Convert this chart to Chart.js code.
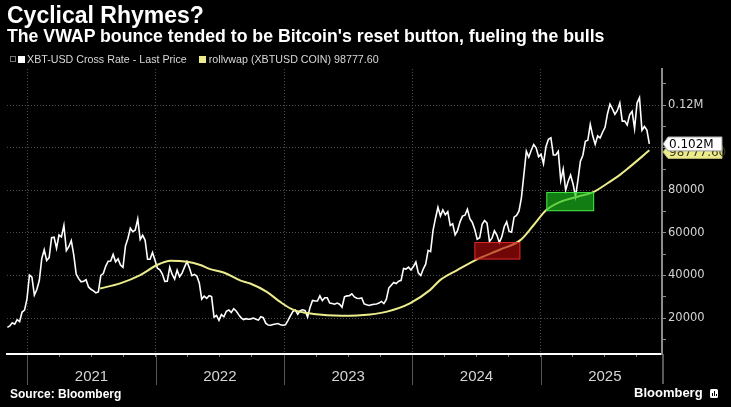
<!DOCTYPE html>
<html>
<head>
<meta charset="utf-8">
<title>Cyclical Rhymes?</title>
<script src="https://cdn.jsdelivr.net/npm/chart.js@4.4.1/dist/chart.umd.min.js"></script>
<style>
  html, body { margin:0; padding:0; background:#000; }
  #wrap { position:relative; width:731px; height:407px; overflow:hidden; background:#000; }
  #chart { position:absolute; left:0; top:0; }
  .txt { position:absolute; white-space:nowrap; color:#fff; font-family:'Liberation Sans', Arial, sans-serif; z-index:2; }
  #title { left:7px; top:4px; font-size:23px; line-height:23px; font-weight:bold; }
  #subtitle { left:7px; top:27px; font-size:17.7px; line-height:18px; font-weight:bold; }
  #legend { left:10px; top:53px; font-size:10.7px; line-height:12px; color:#d8d8d8; display:flex; align-items:center; }
  #legend .ico { width:4px; height:4px; border:1px solid #777; margin-right:2px; }
  #legend .sw { width:7px; height:7px; margin-right:2px; }
  #legend .sw2 { margin-left:12px; margin-right:3px; }
  #source { left:10px; top:388px; font-size:12px; line-height:12px; font-weight:bold; }
  #brand { left:634px; top:386px; font-size:13px; line-height:14px; font-weight:bold; display:flex; align-items:center; }
  #brand .logo { display:inline-block; position:relative; width:8px; height:9px; background:#fff; border-radius:1.5px; margin-left:7px; }
  #brand .logo i { position:absolute; bottom:2px; width:1px; background:#000; }
</style>
</head>
<body>
<div id="wrap">
  <canvas id="chart" width="731" height="407"></canvas>
  <div class="txt" id="title"></div>
  <div class="txt" id="subtitle"></div>
  <div class="txt" id="legend"></div>
  <div class="txt" id="source"></div>
  <div class="txt" id="brand"><span id="brandName"></span><span class="logo"><i style="left:2px;height:3px"></i><i style="left:4px;height:5px"></i><i style="left:6px;height:2px"></i></span></div>
</div>
<script>
// ---------------- text ----------------
const titleText = 'Cyclical Rhymes?';
const subtitleText = "The VWAP bounce tended to be Bitcoin's reset button, fueling the bulls";
const sourceText = 'Source: Bloomberg';
const brandText = 'Bloomberg';
const priceName = 'XBT-USD Cross Rate - Last Price';
const vwapName = 'rollvwap (XBTUSD COIN)';

// ---------------- data ----------------
// XBT-USD last price, weekly samples (Thursdays) starting 2020-11-05
const priceStart = '2020-11-05';
const priceStepDays = 7;
const price2020 = [15600, 16300, 17800, 17100, 19200, 18300, 22800, 23700, 29000];
const price2021 = [40200, 39200, 30800, 33400,
  37600, 47900, 52100, 47000,
  48400, 57800, 58000, 52800,
  59000, 58100, 63500, 51700, 53500,
  56400, 49700, 40600, 38500,
  37000, 37300, 38000, 34600,
  33500, 32800, 31800, 32300, 40000,
  40900, 44400, 46700, 46800,
  49900, 46400, 47800, 44900, 43800,
  53800, 57400, 62200, 60600,
  61400, 66500, 56900, 58900,
  56500, 47600, 47600, 50800, 47100];
const price2022 = [43400, 42600, 40700, 37200,
  37300, 43900, 40500, 38300,
  42500, 39400, 41100, 43900, 46500,
  43500, 39900, 40500, 39700,
  36500, 28900, 30300, 29200,
  30500, 30100, 20400, 21200, 18900,
  21600, 20600, 23200, 23800,
  22600, 24400, 23300, 21600,
  20100, 19300, 19700, 19400, 19600,
  20000, 19400, 19000, 20600,
  20200, 17600, 16700, 16600,
  17000, 17200, 17400, 16800, 16600];
const price2023 = [16800, 18800, 21000, 23000,
  23700, 21800, 23500, 23900,
  23500, 20400, 25000, 28300, 28000,
  28000, 30400, 28200, 29500,
  29500, 27000, 26800, 26500,
  27000, 26500, 25100, 30000, 30400,
  30500, 31400, 29900, 29300,
  29200, 29400, 26600, 26200, 25900,
  26200, 26500, 26600, 27000,
  27800, 26800, 28700, 34100,
  35400, 36700, 36200, 37300, 37700,
  43300, 43000, 43900, 42600];
const price2024 = [44200, 46300, 41200, 40000,
  43000, 45300, 51800, 51200, 61200,
  66900, 72000, 67900, 70800,
  68500, 70000, 63500, 64300,
  59100, 61200, 65200, 67900, 68300,
  71100, 66700, 64900, 61600,
  57000, 57700, 64000, 65800,
  64600, 56000, 57500, 61000, 59000,
  55500, 58100, 62900, 65200,
  60700, 60300, 67400, 68200, 70200,
  76500, 87300, 98400, 95600,
  98800, 101500, 100000, 95800];
const price2025 = [96900, 92500, 100500, 104000, 104700,
  96600, 96600, 98300, 84700,
  90000, 80000, 84200, 87200,
  83000, 77000, 84900, 93700,
  96500, 103000, 103500, 111000, 105600,
  101600, 105600, 104600, 107300,
  109600, 116000, 120500, 118300, 115700,
  117500, 121000, 112500, 112500,
  110700, 115500, 117100, 109000,
  121000, 123500, 108200, 110000, 108300,
  101800];
const priceValues = [].concat(price2020, price2021, price2022, price2023, price2024, price2025);

// rolling VWAP
const vwapDates = ['2021-07-27', '2021-09-22', '2021-11-18', '2022-01-05', '2022-02-12', '2022-04-01',
  '2022-05-08', '2022-06-05', '2022-07-15', '2022-08-29', '2022-09-27', '2022-11-13', '2022-12-20',
  '2023-01-28', '2023-03-26', '2023-06-15', '2023-09-03', '2023-10-21', '2023-12-25', '2024-02-20',
  '2024-03-20', '2024-05-08', '2024-07-03', '2024-09-08', '2024-11-04', '2024-12-12', '2025-01-17',
  '2025-02-26', '2025-04-15', '2025-06-01', '2025-07-09', '2025-08-16', '2025-09-04', '2025-11-06'];
const vwapValues = [33900, 36300, 40200, 44900, 46900, 46400,
  44900, 43000, 41300, 37700, 36200, 32300, 27700,
  23800, 21900, 21100, 21700, 23000, 26900, 33100,
  37800, 42500, 47600, 52200, 56600, 63700, 70700,
  74600, 77000, 79300, 83200, 87500, 90000, 98777.60];

// highlighted zones (dates and price bounds)
const zoneKinds = ['red', 'green'];
const zoneFrom = ['2024-06-26', '2025-01-17'];
const zoneTo = ['2024-11-04', '2025-06-02'];
const zoneLow = [47500, 70200];
const zoneHigh = [55700, 79200];

// axes
const axisStart = '2020-11-04';
const axisEnd = '2025-12-12';
const yearTicks = [2021, 2022, 2023, 2024, 2025];
const yMin = 3100, yMax = 137000;
const yTickValues = [10000, 20000, 30000, 40000, 50000, 60000, 70000, 80000, 90000, 100000, 110000, 120000, 130000];
const yTickLabels = ['', '20000', '', '40000', '', '60000', '', '80000', '', '', '', '0.12M', ''];

// ---------------- styles ----------------
const C = {
  price: '#ffffff', vwap: '#ecec8c', grid: '#4d4d4d', yAxis: '#8c8c8c', xAxis: '#ffffff',
  tickText: '#d4d4d4', sep: '#555555'
};
const zoneStyle = {
  red: { fill: 'rgba(180,10,10,0.62)', stroke: 'rgba(230,45,45,0.9)' },
  green: { fill: 'rgba(28,195,28,0.64)', stroke: 'rgba(70,230,70,0.95)' }
};

// ---------------- helpers ----------------
function parseD(s) { const [a, b, c] = s.split('-').map(Number); return new Date(Date.UTC(a, b - 1, c)); }
function decYear(d) {
  if (typeof d === 'string') d = parseD(d);
  const y = d.getUTCFullYear(), s = Date.UTC(y, 0, 1), e = Date.UTC(y + 1, 0, 1);
  return y + (d.getTime() - s) / (e - s);
}
const startMs = parseD(priceStart).getTime();
const pricePoints = priceValues.map((v, i) => ({ x: decYear(new Date(startMs + i * priceStepDays * 864e5)), y: v }));
const vwapPoints = vwapValues.map((v, i) => ({ x: decYear(vwapDates[i]), y: v }));
const xMin = decYear(axisStart), xMax = decYear(axisEnd);
const quarterTicks = [];
for (let yr = yearTicks[0]; yr <= yearTicks[yearTicks.length - 1]; yr++) for (let q = 0; q < 4; q++) quarterTicks.push(yr + q / 4);

const lastPrice = priceValues[priceValues.length - 1];
const lastVwap = vwapValues[vwapValues.length - 1];

// ---------------- html text ----------------
document.getElementById('title').textContent = titleText;
document.getElementById('subtitle').textContent = subtitleText;
document.getElementById('source').textContent = sourceText;
document.getElementById('brandName').textContent = brandText;
const lg = document.getElementById('legend');
lg.innerHTML = '<span class="ico"></span><span class="sw" style="background:' + C.price + '"></span><span></span>' +
  '<span class="sw sw2" style="background:' + C.vwap + '"></span><span></span>';
lg.children[2].textContent = priceName;
lg.children[4].textContent = vwapName + ' ' + lastVwap.toFixed(2);

// ---------------- plugin ----------------
function drawTag(ctx, left, cy, w, h, fill, stroke, text, color) {
  ctx.beginPath();
  ctx.moveTo(left, cy);
  ctx.lineTo(left + 5, cy - h / 2);
  ctx.lineTo(left + w, cy - h / 2);
  ctx.lineTo(left + w, cy + h / 2);
  ctx.lineTo(left + 5, cy + h / 2);
  ctx.closePath();
  ctx.fillStyle = fill; ctx.fill();
  ctx.strokeStyle = stroke; ctx.lineWidth = 1; ctx.stroke();
  ctx.fillStyle = color;
  ctx.font = "12px 'DejaVu Sans', sans-serif";
  ctx.textBaseline = 'middle'; ctx.textAlign = 'left';
  ctx.fillText(text, left + 6, cy + 0.5);
}
const decor = {
  id: 'decor',
  afterDatasetsDraw(chart) {
    const { ctx, scales: { x, y } } = chart;
    ctx.save();
    zoneKinds.forEach((k, i) => {
      const x1 = x.getPixelForValue(decYear(zoneFrom[i])), x2 = x.getPixelForValue(decYear(zoneTo[i]));
      const y1 = y.getPixelForValue(zoneHigh[i]), y2 = y.getPixelForValue(zoneLow[i]);
      ctx.fillStyle = zoneStyle[k].fill;
      ctx.fillRect(x1, y1, x2 - x1, y2 - y1);
      ctx.strokeStyle = zoneStyle[k].stroke; ctx.lineWidth = 1;
      ctx.strokeRect(x1 + 0.5, y1 + 0.5, x2 - x1 - 1, y2 - y1 - 1);
    });
    ctx.restore();
  },
  afterDraw(chart) {
    const { ctx, chartArea, scales: { x, y } } = chart;
    ctx.save();
    ctx.strokeStyle = C.sep; ctx.lineWidth = 1;
    yearTicks.forEach(v => {
      const px = Math.round(x.getPixelForValue(v)) + 0.5;
      ctx.beginPath(); ctx.moveTo(px, chartArea.bottom + 1); ctx.lineTo(px, chartArea.bottom + 31); ctx.stroke();
    });
    ctx.strokeStyle = '#777'; ctx.lineWidth = 1.5;
    ctx.beginPath(); ctx.moveTo(chartArea.right + 1, chartArea.bottom); ctx.lineTo(chartArea.right + 1, chartArea.bottom + 30); ctx.stroke();
    const left = chartArea.right + 1;
    const py = y.getPixelForValue(lastPrice);
    const vy = Math.max(y.getPixelForValue(lastVwap), py + 8);
    drawTag(ctx, left, vy, 59, 13, C.vwap, '#b8b870', lastVwap.toFixed(2), '#3a3a20');
    drawTag(ctx, left, py, 59, 14, '#ffffff', '#9a9a9a', (lastPrice / 1e6).toFixed(3) + 'M', '#000');
    ctx.restore();
  }
};

// ---------------- chart ----------------
new Chart(document.getElementById('chart'), {
  type: 'line',
  data: {
    datasets: [
      { label: vwapName, data: vwapPoints, borderColor: C.vwap, borderWidth: 2, pointRadius: 0,
        cubicInterpolationMode: 'monotone', order: 0 },
      { label: priceName, data: pricePoints, borderColor: C.price, borderWidth: 1.6, pointRadius: 0,
        tension: 0, order: 1 }
    ]
  },
  options: {
    responsive: false, animation: false, devicePixelRatio: 1,
    layout: { padding: { left: 7, top: 69, right: 0, bottom: 0 } },
    plugins: { legend: { display: false }, tooltip: { enabled: false } },
    scales: {
      x: {
        type: 'linear', position: 'bottom', min: xMin, max: xMax,
        afterBuildTicks: s => { s.ticks = quarterTicks.map(v => ({ value: v })); },
        afterFit: s => { s.height = 53; },
        ticks: {
          autoSkip: false, maxRotation: 0, padding: 11, color: C.tickText,
          font: { family: "'Liberation Sans Narrow', 'Liberation Sans', Arial, sans-serif", size: 15 },
          callback: v => { const i = yearTicks.indexOf(Math.round(v - 0.5)); return Math.abs(v % 1 - 0.5) < 1e-6 && i >= 0 ? String(yearTicks[i]) : ''; }
        },
        grid: {
          color: c => (c.tick && Math.abs(c.tick.value % 1) < 1e-6) ? C.grid : 'rgba(0,0,0,0)',
          tickColor: '#888', tickLength: 3, lineWidth: 1
        },
        border: { color: C.xAxis, width: 2, dash: [1, 2] }
      },
      y: {
        type: 'linear', position: 'right', min: yMin, max: yMax,
        afterBuildTicks: s => { s.ticks = yTickValues.map(v => ({ value: v })); },
        afterFit: s => { s.width = 69; },
        ticks: {
          autoSkip: false, padding: 2, color: C.tickText,
          font: { family: "'DejaVu Sans', sans-serif", size: 11.5 },
          callback: v => { const i = yTickValues.indexOf(v); return i >= 0 ? yTickLabels[i] : ''; }
        },
        grid: {
          color: c => (c.tick && c.tick.value % 20000 === 0) ? C.grid : 'rgba(0,0,0,0)',
          tickColor: '#8c8c8c', tickLength: 4, lineWidth: 1
        },
        border: { color: C.yAxis, width: 2, dash: [1, 2] }
      }
    }
  },
  plugins: [decor]
});
</script>
</body>
</html>
